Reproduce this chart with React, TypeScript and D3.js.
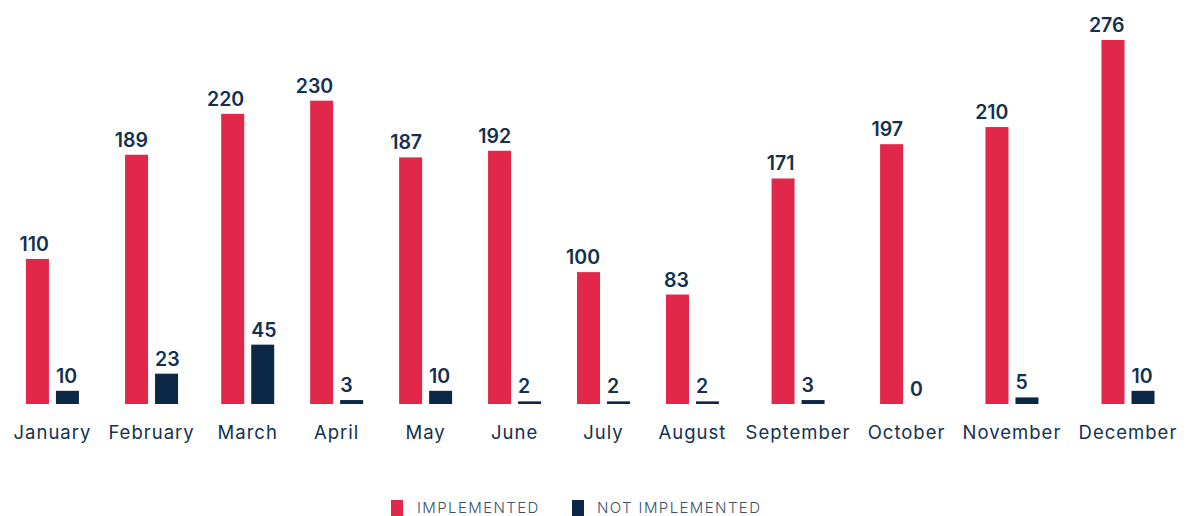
import React, { useMemo } from 'react';
import * as d3 from 'd3';

const months = ['January', 'February', 'March', 'April', 'May', 'June', 'July', 'August', 'September', 'October', 'November', 'December'];
const implemented = [110, 189, 220, 230, 187, 192, 100, 83, 171, 197, 210, 276];
const notImplemented = [10, 23, 45, 3, 10, 2, 2, 2, 3, 0, 5, 10];
const seriesNames = ['IMPLEMENTED', 'NOT IMPLEMENTED'];

const RED = '#e1284b';
const NAVY = '#0d2846';
const TEXT = '#13304f';
const FONT = 'Inter, "Noto Sans", sans-serif';

const W = 1188;
const H = 516;
const baseline = 404;
const top = 40;
const barW = 23;
const barGap = 7;
const labelSize = 18.5;
const labelSpacing = 1;

// ширина текста через canvas
const measure = (txt: string, font: string, spacing: number) => {
  const ctx = document.createElement('canvas').getContext('2d');
  if (!ctx) return txt.length * 10;
  ctx.font = font;
  return ctx.measureText(txt).width + spacing * txt.length;
};

const App = () => {
  // слоты категорий как во flex-раскладке: ширина подписи + отступ, но не меньше минимума
  const xCenter = useMemo(() => {
    const slots = months.map(m => Math.max(measure(m, `400 ${labelSize}px ${FONT}`, labelSpacing) + 16, 88));
    const total = d3.sum(slots);
    const k = (1186 - 5) / total;
    let acc = 5;
    const centers = slots.map(s => {
      const c = acc + (s * k) / 2;
      acc += s * k;
      return c;
    });
    return d3.scaleOrdinal<string, number>().domain(months).range(centers);
  }, []);

  const y = d3.scaleLinear().domain([0, d3.max(implemented) as number]).range([baseline, top]);

  return (
    <svg width={W} height={H} style={{ position: 'absolute', left: 0, top: 0, display: 'block' }} fontFamily={FONT}>
      {months.map((m, i) => {
        const c = xCenter(m);
        const rx = c - barW - barGap / 2;
        const nx = c + barGap / 2;
        return (
          <g key={m}>
            <rect x={rx} y={y(implemented[i])} width={barW} height={baseline - y(implemented[i])} fill={RED} />
            <rect x={nx} y={y(notImplemented[i])} width={barW} height={baseline - y(notImplemented[i])} fill={NAVY} />
            <text x={rx + barW} y={y(implemented[i]) - 8} textAnchor="end" fontSize={19.5} fontWeight={600} fill={TEXT}>
              {implemented[i]}
            </text>
            <text x={nx} y={y(notImplemented[i]) - 8} textAnchor="start" fontSize={19.5} fontWeight={600} fill={TEXT}>
              {notImplemented[i]}
            </text>
            <text x={c} y={439} textAnchor="middle" fontSize={labelSize} letterSpacing={labelSpacing} fill={TEXT}>
              {m}
            </text>
          </g>
        );
      })}

      {/* легенда */}
      <g>
        <rect x={391} y={500} width={12} height={16} fill={RED} />
        <text x={417} y={513} fontSize={15} fontWeight={300} letterSpacing={1.4} fill="#3a5170">{seriesNames[0]}</text>
        <rect x={572} y={500} width={12} height={16} fill={NAVY} />
        <text x={597} y={513} fontSize={15} fontWeight={300} letterSpacing={1.4} fill="#3a5170">{seriesNames[1]}</text>
      </g>
    </svg>
  );
};

export default App;
